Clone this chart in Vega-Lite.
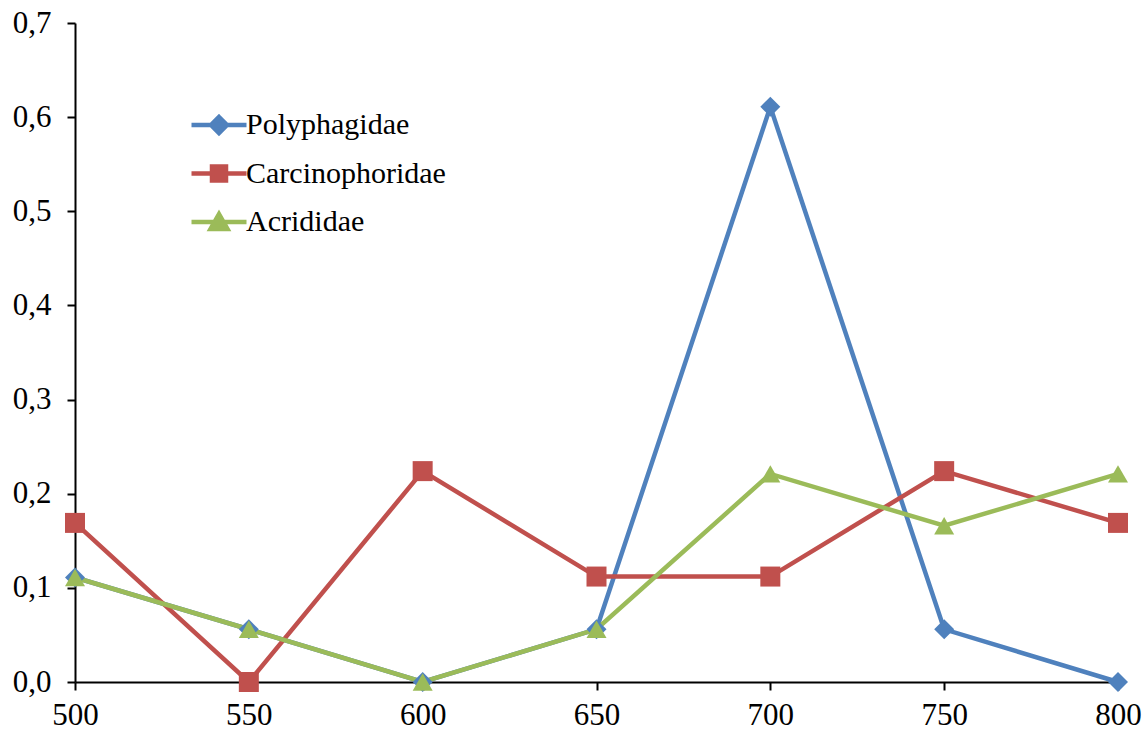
{
  "$schema": "https://vega.github.io/schema/vega-lite/v6.json",
  "autosize": {"type": "none"},
  "padding": {"left": 75, "top": 23, "right": 28, "bottom": 49},
  "width": 1043,
  "height": 659,
  "background": "white",
  "config": {
    "view": {"stroke": null},
    "font": "Liberation Serif",
    "axis": {"grid": false, "domainColor": "black", "tickColor": "black", "domainWidth": 2, "tickWidth": 2, "tickSize": 8, "labelColor": "black", "labelFont": "Liberation Serif", "labelFontSize": 31, "labelFlush": false, "title": null}
  },
  "resolve": {"legend": {"color": "independent", "shape": "independent"}},
  "data": {"values": [
    {"x": 500, "y": 0.111, "s": "Polyphagidae"},
    {"x": 550, "y": 0.056, "s": "Polyphagidae"},
    {"x": 600, "y": 0.0, "s": "Polyphagidae"},
    {"x": 650, "y": 0.056, "s": "Polyphagidae"},
    {"x": 700, "y": 0.611, "s": "Polyphagidae"},
    {"x": 750, "y": 0.056, "s": "Polyphagidae"},
    {"x": 800, "y": 0.0, "s": "Polyphagidae"},
    {"x": 500, "y": 0.169, "s": "Carcinophoridae"},
    {"x": 550, "y": 0.0, "s": "Carcinophoridae"},
    {"x": 600, "y": 0.224, "s": "Carcinophoridae"},
    {"x": 650, "y": 0.112, "s": "Carcinophoridae"},
    {"x": 700, "y": 0.112, "s": "Carcinophoridae"},
    {"x": 750, "y": 0.224, "s": "Carcinophoridae"},
    {"x": 800, "y": 0.169, "s": "Carcinophoridae"},
    {"x": 500, "y": 0.111, "s": "Acrididae"},
    {"x": 550, "y": 0.056, "s": "Acrididae"},
    {"x": 600, "y": 0.0, "s": "Acrididae"},
    {"x": 650, "y": 0.056, "s": "Acrididae"},
    {"x": 700, "y": 0.221, "s": "Acrididae"},
    {"x": 750, "y": 0.166, "s": "Acrididae"},
    {"x": 800, "y": 0.221, "s": "Acrididae"}
  ]},
  "encoding": {
    "x": {"field": "x", "type": "quantitative", "scale": {"domain": [500, 800], "nice": false, "zero": false}, "axis": {"values": [500, 550, 600, 650, 700, 750, 800], "labelPadding": 10}},
    "y": {"field": "y", "type": "quantitative", "scale": {"domain": [0, 0.7], "nice": false}, "axis": {"values": [0, 0.1, 0.2, 0.3, 0.4, 0.5, 0.6, 0.7], "labelExpr": "replace(format(datum.value, '.1f'), '.', ',')", "labelPadding": 16}}
  },
  "layer": [
    {
      "mark": {"type": "line", "strokeWidth": 4.5},
      "encoding": {
        "color": {"field": "s", "type": "nominal", "scale": {"domain": ["Polyphagidae", "Carcinophoridae", "Acrididae"], "range": ["#4F81BD", "#C0504D", "#9BBB59"]},
          "legend": {
            "title": null, "orient": "none", "legendX": 129, "legendY": 87,
            "symbolType": "stroke", "symbolSize": 400, "symbolStrokeWidth": 4.5, "labelFontSize": 30, "labelFont": "Liberation Serif", "labelColor": "black", "labelOffset": 12, "rowPadding": 15.5, "labelLimit": 0,
            "encode": {"symbols": {"update": {
              "shape": {"signal": "datum.value === 'Polyphagidae' ? 'M-2.75,0H2.75M0,-0.8L0.8,0L0,0.8L-0.8,0Z' : datum.value === 'Carcinophoridae' ? 'M-2.75,0H2.75M-0.7,-0.7H0.7V0.7H-0.7Z' : 'M-2.75,0H2.75M0,-0.8L0.85,0.7H-0.85Z'"},
              "fill": {"scale": "color", "field": "value"},
              "stroke": {"scale": "color", "field": "value"},
              "strokeWidth": {"value": 4.5},
              "opacity": {"value": 1}
            }}}
          }}
      }
    },
    {
      "mark": {"type": "point", "filled": true, "size": 400, "opacity": 1},
      "encoding": {
        "shape": {"field": "s", "type": "nominal", "scale": {"domain": ["Polyphagidae", "Carcinophoridae", "Acrididae"], "range": ["diamond", "square", "triangle-up"]}, "legend": null},
        "color": {"field": "s", "type": "nominal", "legend": null}
      }
    }
  ]
}
